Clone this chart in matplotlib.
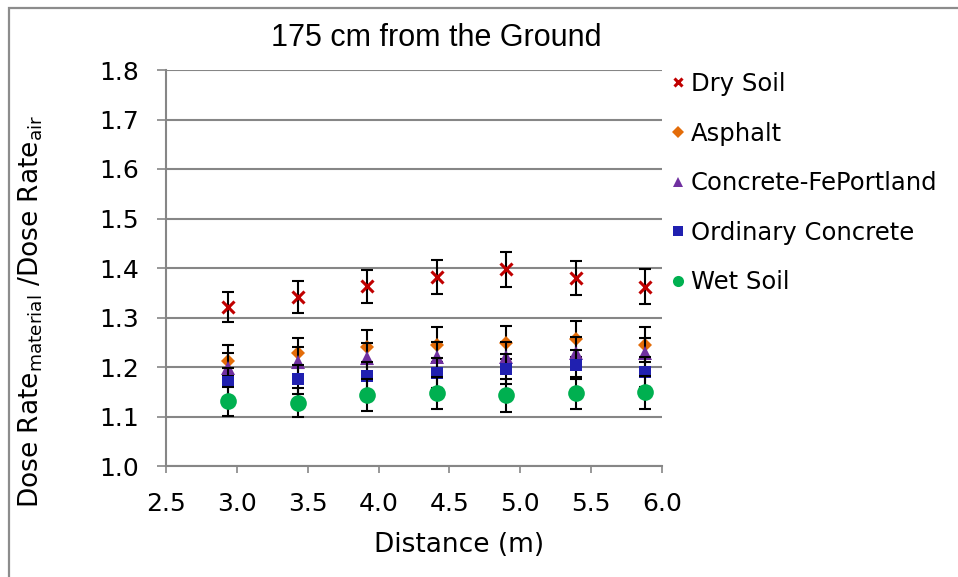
import matplotlib
matplotlib.use("Agg")
import matplotlib.pyplot as plt
from matplotlib.patches import Rectangle

# ---- data ----
distance = [2.94, 3.43, 3.92, 4.41, 4.90, 5.39, 5.88]

dry_soil = [1.321, 1.341, 1.363, 1.382, 1.397, 1.380, 1.362]
dry_soil_err = [0.031, 0.032, 0.033, 0.034, 0.035, 0.035, 0.035]

asphalt = [1.213, 1.228, 1.240, 1.245, 1.249, 1.257, 1.245]
asphalt_err = [0.031, 0.031, 0.034, 0.035, 0.033, 0.036, 0.035]

fe_portland = [1.198, 1.210, 1.219, 1.220, 1.221, 1.229, 1.228]
fe_portland_err = [0.030, 0.030, 0.030, 0.030, 0.030, 0.031, 0.031]

ordinary = [1.169, 1.175, 1.181, 1.188, 1.196, 1.205, 1.190]
ordinary_err = [0.029, 0.029, 0.030, 0.030, 0.030, 0.030, 0.030]

wet_soil = [1.131, 1.128, 1.144, 1.147, 1.143, 1.147, 1.149]
wet_soil_err = [0.029, 0.029, 0.032, 0.032, 0.033, 0.032, 0.033]

labels = ["Dry Soil", "Asphalt", "Concrete-FePortland", "Ordinary Concrete", "Wet Soil"]
y_ticks = [1.0, 1.1, 1.2, 1.3, 1.4, 1.5, 1.6, 1.7, 1.8]
x_ticks = [2.5, 3.0, 3.5, 4.0, 4.5, 5.0, 5.5, 6.0]

title = "175 cm from the Ground"
xlabel = "Distance (m)"
ylabel = r"Dose Rate$_{\mathregular{material}}$ /Dose Rate$_{\mathregular{air}}$"

# ---- styling ----
plt.rcParams['font.family'] = ['DejaVu Sans']
plt.rcParams['mathtext.default'] = 'regular'

W, H = 958, 577
fig = plt.figure(figsize=(W / 100, H / 100), dpi=100)
fig.patch.set_facecolor("white")

# outer frame
fig.patches.append(Rectangle((9 / W, -0.05), 1.2, 1 - 8 / H + 0.05,
                             transform=fig.transFigure, fill=False,
                             edgecolor="#8c8c8c", linewidth=1.6))

ax = fig.add_axes([166 / W, (577 - 466) / H, 496 / W, 396 / H])

gray = "#868686"
series = [
    (dry_soil, dry_soil_err, "x", "#C00000", 9, 2.2, 6),
    (asphalt, asphalt_err, "D", "#E36C09", 7, 1.0, 6),
    (fe_portland, fe_portland_err, "^", "#7030A0", 10, 1.0, 7),
    (ordinary, ordinary_err, "s", "#2020B0", 9, 1.0, 6.5),
    (wet_soil, wet_soil_err, "o", "#00B050", 12, 1.0, 8),
]

handles = []
for i, (vals, errs, mk, col, ms, mew, lms) in enumerate(series):
    ax.errorbar(distance, vals, yerr=errs, fmt="none", ecolor="black",
                elinewidth=1.5, capsize=4, capthick=1.5, zorder=3 + i * 2)
    ax.plot(distance, vals, linestyle="none", marker=mk, color=col,
            markersize=ms, markeredgewidth=mew if mk == "x" else 0,
            zorder=4 + i * 2)
    h, = ax.plot([], [], linestyle="none", marker=mk, color=col,
                 markersize=lms, markeredgewidth=mew if mk == "x" else 0)
    handles.append(h)

ax.set_xlim(2.5, 6.0)
ax.set_ylim(1.0, 1.8)
ax.set_xticks(x_ticks)
ax.set_yticks(y_ticks)
ax.set_xticklabels([f"{v:.1f}" for v in x_ticks])
ax.set_yticklabels([f"{v:.1f}" for v in y_ticks])
ax.yaxis.grid(True, color=gray, linewidth=1.5)
ax.set_axisbelow(True)

for s in ["top", "right"]:
    ax.spines[s].set_visible(False)
for s in ["left", "bottom"]:
    ax.spines[s].set_color(gray)
    ax.spines[s].set_linewidth(1.5)

ax.tick_params(axis="y", length=6.5, width=1.2, color=gray, labelsize=18, pad=13)
ax.tick_params(axis="x", length=5, width=1.2, color=gray, labelsize=18, pad=14)

ax.set_xlabel(xlabel, fontsize=19)
ax.xaxis.set_label_coords((459 - 166) / 496, (466 - 545) / 396)
ax.xaxis.label.set_va("center")
ax.set_ylabel(ylabel, fontsize=19)
ax.yaxis.set_label_coords((31 - 166) / 496, (466 - 311) / 396)
ax.yaxis.label.set_va("center")

fig.text(436 / W, 1 - 38 / H, title, family="Liberation Sans", fontsize=22,
         ha="center", va="center")

leg = fig.legend(handles, labels, loc="upper left",
                 bbox_to_anchor=(668 / W, 1 - 72 / H), frameon=False,
                 fontsize=17.5, handlelength=0.8, handletextpad=0.15,
                 labelspacing=1.05, borderpad=0, borderaxespad=0)

fig.savefig("out.png", dpi=100, facecolor="white")
